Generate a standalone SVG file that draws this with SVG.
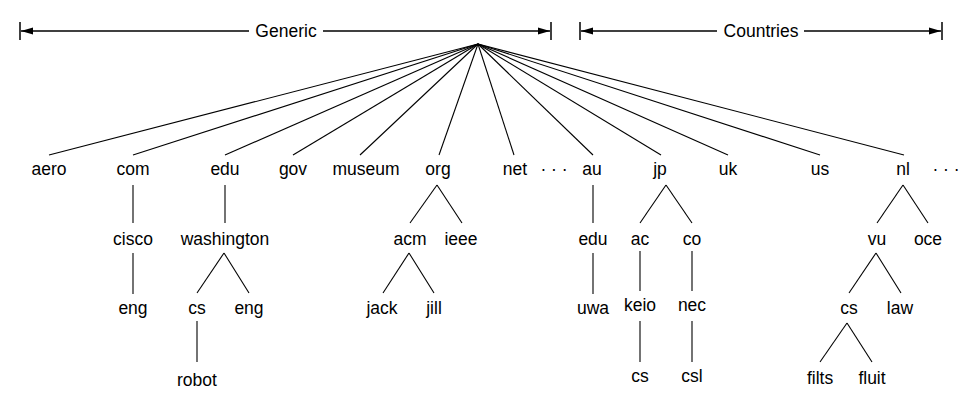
<svg xmlns="http://www.w3.org/2000/svg" width="967" height="416" viewBox="0 0 967 416">
<style>
text{font-family:"Liberation Sans",Arial,sans-serif;font-size:17.5px;fill:#000;text-anchor:middle}
.c line{stroke:#000;stroke-width:1.1;fill:none}
.b line{stroke:#000;stroke-width:1.5;fill:none}
</style>
<defs>
<marker id="ah" viewBox="0 0 12 8" refX="12" refY="4" markerWidth="12" markerHeight="8" markerUnits="userSpaceOnUse" orient="auto-start-reverse">
<path d="M0,0.5 L12,4 L0,7.5 Z" fill="#000"/>
</marker>
</defs>
<rect width="967" height="416" fill="#fff"/>
<g id="bracket-generic" class="b">
<line x1="20" y1="22" x2="20" y2="40"/>
<line x1="551" y1="22" x2="551" y2="40"/>
<line x1="249" y1="31" x2="21" y2="31" marker-end="url(#ah)"/>
<line x1="323" y1="31" x2="550" y2="31" marker-end="url(#ah)"/>
<text x="286" y="37">Generic</text>
</g>
<g id="bracket-countries" class="b">
<line x1="580" y1="22" x2="580" y2="40"/>
<line x1="942" y1="22" x2="942" y2="40"/>
<line x1="717" y1="31" x2="581" y2="31" marker-end="url(#ah)"/>
<line x1="804" y1="31" x2="941" y2="31" marker-end="url(#ah)"/>
<text x="761" y="37">Countries</text>
</g>
<g id="connectors" class="c">
<line x1="478" y1="44" x2="49" y2="155"/>
<line x1="478" y1="44" x2="133" y2="155"/>
<line x1="478" y1="44" x2="225" y2="155"/>
<line x1="478" y1="44" x2="293" y2="155"/>
<line x1="478" y1="44" x2="360" y2="155"/>
<line x1="478" y1="44" x2="439" y2="155"/>
<line x1="478" y1="44" x2="514" y2="155"/>
<line x1="478" y1="44" x2="593" y2="155"/>
<line x1="478" y1="44" x2="661" y2="155"/>
<line x1="478" y1="44" x2="728" y2="155"/>
<line x1="478" y1="44" x2="820" y2="155"/>
<line x1="478" y1="44" x2="904" y2="155"/>
<line x1="133" y1="185" x2="133" y2="223"/>
<line x1="133" y1="253" x2="133" y2="294"/>
<line x1="225" y1="185" x2="225" y2="223"/>
<line x1="224" y1="253" x2="197" y2="293"/>
<line x1="224" y1="253" x2="249" y2="293"/>
<line x1="197" y1="321" x2="197" y2="362"/>
<line x1="437" y1="185" x2="410" y2="223"/>
<line x1="437" y1="185" x2="462" y2="223"/>
<line x1="409" y1="253" x2="383" y2="293"/>
<line x1="409" y1="253" x2="434" y2="293"/>
<line x1="593" y1="185" x2="593" y2="223"/>
<line x1="593" y1="253" x2="593" y2="294"/>
<line x1="666" y1="185" x2="640" y2="223"/>
<line x1="666" y1="185" x2="692" y2="223"/>
<line x1="640" y1="251" x2="640" y2="291"/>
<line x1="692" y1="251" x2="692" y2="291"/>
<line x1="640" y1="321" x2="640" y2="362"/>
<line x1="692" y1="321" x2="692" y2="362"/>
<line x1="903" y1="185" x2="877" y2="223"/>
<line x1="903" y1="185" x2="928" y2="223"/>
<line x1="876" y1="253" x2="849" y2="293"/>
<line x1="876" y1="253" x2="901" y2="293"/>
<line x1="847" y1="323" x2="820" y2="362"/>
<line x1="847" y1="323" x2="872" y2="362"/>
</g>
<g id="n-aero"><text x="49" y="175">aero</text></g>
<g id="n-com"><text x="133" y="175">com</text></g>
<g id="n-edu"><text x="225" y="175">edu</text></g>
<g id="n-gov"><text x="293" y="175">gov</text></g>
<g id="n-museum"><text x="366" y="175">museum</text></g>
<g id="n-org"><text x="438" y="175">org</text></g>
<g id="n-net"><text x="515" y="175">net</text></g>
<g id="dots-generic"><text x="554" y="175">· · ·</text></g>
<g id="n-au"><text x="592" y="175">au</text></g>
<g id="n-jp"><text x="660" y="175">jp</text></g>
<g id="n-uk"><text x="728" y="175">uk</text></g>
<g id="n-us"><text x="820" y="175">us</text></g>
<g id="n-nl"><text x="903" y="175">nl</text></g>
<g id="dots-countries"><text x="946" y="175">· · ·</text></g>
<g id="n-cisco"><text x="133" y="245">cisco</text></g>
<g id="n-washington"><text x="225" y="245">washington</text></g>
<g id="n-acm"><text x="410" y="245">acm</text></g>
<g id="n-ieee"><text x="461" y="245">ieee</text></g>
<g id="n-au-edu"><text x="593" y="245">edu</text></g>
<g id="n-ac"><text x="640" y="245">ac</text></g>
<g id="n-co"><text x="692" y="245">co</text></g>
<g id="n-vu"><text x="877" y="245">vu</text></g>
<g id="n-oce"><text x="928" y="245">oce</text></g>
<g id="n-cisco-eng"><text x="133" y="314">eng</text></g>
<g id="n-wash-cs"><text x="197" y="314">cs</text></g>
<g id="n-wash-eng"><text x="249" y="314">eng</text></g>
<g id="n-jack"><text x="382" y="314">jack</text></g>
<g id="n-jill"><text x="434" y="314">jill</text></g>
<g id="n-uwa"><text x="593" y="314">uwa</text></g>
<g id="n-keio"><text x="640" y="311">keio</text></g>
<g id="n-nec"><text x="692" y="311">nec</text></g>
<g id="n-vu-cs"><text x="849" y="314">cs</text></g>
<g id="n-law"><text x="900" y="314">law</text></g>
<g id="n-robot"><text x="197" y="386">robot</text></g>
<g id="n-keio-cs"><text x="640" y="382">cs</text></g>
<g id="n-csl"><text x="692" y="382">csl</text></g>
<g id="n-filts"><text x="820" y="384">filts</text></g>
<g id="n-fluit"><text x="872" y="384">fluit</text></g>
</svg>
